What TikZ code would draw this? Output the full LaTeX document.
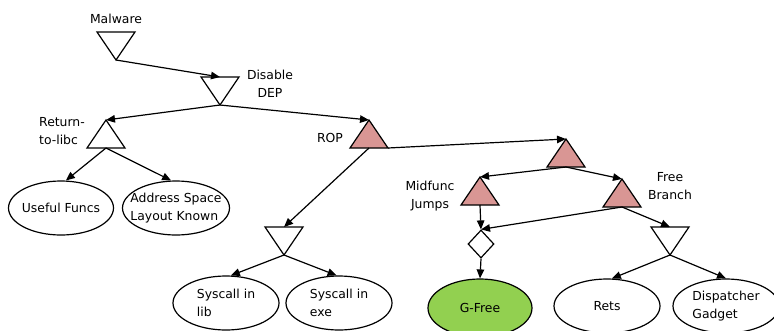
\documentclass[tikz,border=0pt]{standalone}
\usepackage{fontspec}
\setmainfont{DejaVu Sans}
\usetikzlibrary{shapes.geometric,arrows.meta}
\definecolor{pinkfill}{HTML}{D99694}
\definecolor{greenfill}{HTML}{92D050}
\tikzset{
 lbl/.style={font=\fontsize{12.4}{17.5}\selectfont, align=center, inner sep=0pt},
 ell/.style={ellipse, draw, line width=1.2pt, minimum width=106pt, minimum height=54pt, inner sep=0pt},
 etext/.style={label={[lbl, align=left]center:#1}},
 conn/.style={line width=1.2pt, -{Triangle[length=9pt,width=7.5pt]}},
 uptri/.pic={\draw[line width=1.2pt, pic actions] (0,0) -- (19,28) -- (-19,28) -- cycle;
   \coordinate (-top) at (0,0); \coordinate (-bot) at (0,28); \coordinate (-br) at (19,28);},
 downtri/.pic={\draw[line width=1.2pt, pic actions] (-19,0) -- (19,0) -- (0,28) -- cycle;
   \coordinate (-top) at (0,0); \coordinate (-bot) at (0,28);},
 pinktri/.style={fill=pinkfill}
}
\begin{document}
\begin{tikzpicture}[x=1pt,y=-1pt]
\useasboundingbox (0,0) rectangle (774,330);
% triangles
\pic (mal) at (116,32) {downtri};
\pic (dep) at (220,77) {downtri};
\pic (ret) at (106,120) {uptri};
\pic[pinktri] (rop) at (369,120) {uptri};
\pic[pinktri] (big) at (566,139) {uptri};
\pic[pinktri] (mid) at (480,177) {uptri};
\pic[pinktri] (free) at (622,179) {uptri};
\pic (dsys) at (284,227) {downtri};
\pic (dfree) at (670,227) {downtri};
\node[diamond, draw, line width=1.2pt, minimum width=26pt, minimum height=28pt, inner sep=0pt] (dia) at (481,244) {};
% labels
\node[lbl] (lmal) at (116,19) {Malware};
\node[lbl] (ldep) at (270,84) {Disable\\DEP};
\node[lbl, align=left] (lret) at (62,131) {Return-\\to-libc};
\node[lbl] (lrop) at (330,138) {ROP};
\node[lbl] (lmid) at (430,196) {Midfunc\\Jumps};
\node[lbl] (lfree) at (670,186) {Free\\Branch};
% ellipses
\node[ell, minimum width=105pt, etext={Useful Funcs}] (useful) at (61,208) {};
\node[ell, minimum width=107pt, etext={Address Space\\Layout Known}] (addr) at (176,208) {};
\node[ell, etext={Syscall in\\lib}] (slib) at (226,303) {};
\node[ell, etext={Syscall in\\exe}] (sexe) at (339,303) {};
\node[ell, fill=greenfill, minimum width=104pt, minimum height=58pt, etext={G-Free}] (gfree) at (480,308) {};
\node[ell, etext={Rets}] (rets) at (607,306) {};
\node[ell, etext={Dispatcher\\Gadget}] (disp) at (726,306) {};
% connectors
\draw[conn] (mal-bot) -- (dep-top);
\draw[conn] (dep-bot) -- (ret-top);
\draw[conn] (dep-bot) -- (rop-top);
\draw[conn] (ret-bot) -- (useful.80);
\draw[conn] (ret-bot) -- (addr.100);
\draw[conn] (rop-bot) -- (dsys-top);
\draw[conn] (dsys-bot) -- (slib.80);
\draw[conn] (dsys-bot) -- (sexe.95);
\draw[conn] (rop-br) -- (big-top);
\draw[conn] (big-bot) -- (mid-top);
\draw[conn] (big-bot) -- (free-top);
\draw[conn] (mid-bot) -- (dia.north);
\draw[conn] (free-bot) -- (dia.north);
\draw[conn] (free-bot) -- (dfree-top);
\draw[conn] (dia.south) -- (gfree.north);
\draw[conn] (dfree-bot) -- (rets.80);
\draw[conn] (dfree-bot) -- (disp.north);
\end{tikzpicture}
\end{document}
